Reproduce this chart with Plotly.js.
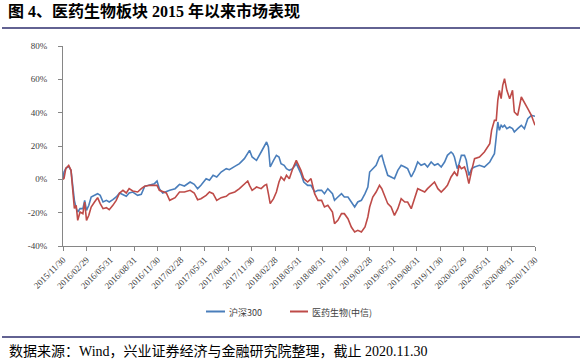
<!DOCTYPE html>
<html>
<head>
<meta charset="utf-8">
<script src="https://cdn.plot.ly/plotly-3.0.1.min.js"></script>
<style>
html,body{margin:0;padding:0;background:#fff;}
#chart{width:587px;height:362px;}
</style>
</head>
<body>
<div id="chart"></div>
<script>
// ---- data ----
const seriesNames = ['沪深300', '医药生物(中信)'];
const dates = [
'2015-11-30','2015-12-04','2015-12-11','2015-12-22','2015-12-31','2016-01-06','2016-01-13','2016-01-20','2016-01-26','2016-02-04',
'2016-02-15','2016-02-22','2016-02-29','2016-03-09','2016-03-18','2016-03-31','2016-04-12','2016-04-22','2016-05-03','2016-05-16',
'2016-05-27','2016-06-10','2016-06-23','2016-07-06','2016-07-19','2016-08-01','2016-08-12','2016-08-26','2016-09-14','2016-09-28',
'2016-10-11','2016-10-31','2016-11-18','2016-11-28','2016-12-07','2016-12-20','2017-01-03','2017-01-16','2017-02-06','2017-02-23',
'2017-03-14','2017-04-05','2017-04-21','2017-05-04','2017-05-17','2017-06-06','2017-06-19','2017-07-03','2017-07-17','2017-08-03',
'2017-08-23','2017-09-04','2017-09-25','2017-10-13','2017-11-01','2017-11-14','2017-11-21','2017-12-01','2017-12-18','2018-01-05',
'2018-01-18','2018-01-26','2018-02-02','2018-02-09','2018-02-22','2018-03-05','2018-03-15','2018-03-23','2018-04-04','2018-04-13',
'2018-04-24','2018-05-07','2018-05-21','2018-05-30','2018-06-08','2018-06-19','2018-07-04','2018-07-17','2018-07-31','2018-08-13',
'2018-08-27','2018-09-07','2018-09-20','2018-10-08','2018-10-16','2018-10-29','2018-11-12','2018-11-23','2018-12-07','2018-12-20',
'2019-01-02','2019-01-14','2019-01-28','2019-02-11','2019-02-22','2019-03-01','2019-03-13','2019-03-26','2019-04-08','2019-04-17',
'2019-04-26','2019-05-10','2019-05-23','2019-06-05','2019-06-18','2019-07-01','2019-07-15','2019-07-26','2019-08-09','2019-08-22',
'2019-09-03','2019-09-16','2019-09-30','2019-10-11','2019-10-25','2019-11-07','2019-11-20','2019-12-03','2019-12-16','2019-12-27',
'2020-01-10','2020-01-17','2020-01-23','2020-02-03','2020-02-10','2020-02-19','2020-03-02','2020-03-09','2020-03-19','2020-03-30',
'2020-04-10','2020-04-29','2020-05-18','2020-06-08','2020-06-15','2020-06-26','2020-07-03','2020-07-09','2020-07-15','2020-07-22',
'2020-07-28','2020-08-04','2020-08-13','2020-08-24','2020-09-04','2020-09-11','2020-09-24','2020-10-08','2020-10-20','2020-11-02',
'2020-11-16','2020-11-30'
];
const hs300 = [
0,4.4,6.6,7.8,5.4,-4.6,-12.6,-17.4,-19.6,-17.6,
-17.6,-12.6,-18.6,-15.6,-10.6,-9.6,-8.6,-9.6,-13.6,-12.6,
-13.6,-12.2,-10.6,-8.2,-9.0,-10.2,-8.2,-7.6,-9.6,-9.0,
-4.2,-3.6,-2.6,-1.0,-5.6,-8.2,-7.2,-6.6,-5.6,-3.0,
-4.0,-1.6,-3.0,-5.6,-3.6,0.4,-0.6,2.4,1.4,4.4,
6.4,5.8,7.8,9.4,12.4,15.4,17.4,13.4,11.4,16.4,
20.4,22.4,19.4,7.4,11.4,14.4,13.4,9.4,8.4,6.4,
5.4,6.4,9.4,6.4,3.4,-1.6,-3.6,-3.6,-7.6,-6.6,
-6.6,-8.6,-5.6,-8.6,-12.6,-10.6,-8.6,-10.6,-10.6,-13.6,
-16.6,-13.6,-12.6,-8.6,-4.6,4.4,6.4,8.4,13.4,14.4,
9.4,2.4,1.4,0.4,5.4,8.4,7.4,6.4,1.4,5.4,
10.4,8.4,9.4,7.4,10.4,8.4,9.4,7.4,10.4,14.4,
16.4,15.4,13.4,6.4,9.4,14.4,14.4,11.4,2.4,6.4,
7.4,8.4,7.4,10.4,12.4,15.4,25.4,34.4,29.4,32.4,
31.4,32.4,30.4,31.4,30.4,28.4,30.4,32.4,30.4,36.4,
38.4,37.8
];
const yiyao = [
0,0.6,6.6,8.4,5.4,-6.6,-17.4,-15.6,-24.6,-19.6,
-20.6,-13.6,-24.6,-21.6,-16.6,-13.6,-11.0,-14.6,-17.6,-17.0,
-18.2,-15.6,-12.6,-8.2,-6.6,-8.2,-5.6,-7.0,-7.6,-5.6,
-4.2,-3.6,-3.6,-3.6,-6.6,-7.6,-8.2,-12.6,-11.0,-7.6,
-7.6,-6.6,-8.2,-12.2,-11.6,-9.6,-7.6,-8.6,-12.6,-11.0,
-10.2,-8.6,-7.6,-5.6,-2.6,-1.0,-3.6,-6.6,-4.6,-5.6,
-3.6,-3.0,-8.6,-14.6,-11.6,-7.6,-1.6,1.4,-0.6,2.4,
0.4,6.4,11.4,8.4,5.4,0.4,-1.6,0.4,-8.6,-12.6,
-12.6,-16.6,-15.6,-19.6,-26.6,-24.6,-20.6,-20.6,-23.6,-28.6,
-31.6,-30.6,-31.6,-28.6,-22.6,-16.6,-10.6,-7.6,-3.6,-5.6,
-9.6,-14.6,-16.6,-21.6,-17.6,-11.6,-13.6,-13.6,-17.6,-10.6,
-5.6,-6.6,-7.6,-5.6,-3.6,-1.6,-5.6,-7.6,-5.6,-3.6,
1.4,3.4,4.4,2.0,8.4,6.4,7.4,4.4,-2.6,5.4,
12.4,13.4,16.4,21.4,29.4,35.4,35.4,47.4,53.4,48.4,
56.4,60.4,53.4,48.4,53.4,40.4,38.4,49.4,46.4,42.4,
38.4,32.4
];
const xTickLabels = ['2015/11/30','2016/02/29','2016/05/31','2016/08/31','2016/11/30','2017/02/28','2017/05/31','2017/08/31','2017/11/30',
'2018/02/28','2018/05/31','2018/08/31','2018/11/30','2019/02/28','2019/05/31','2019/08/31','2019/11/30','2020/02/29','2020/05/31','2020/08/31','2020/11/30'];
const yTickVals = [-40,-20,0,20,40,60,80];
const yTickText = ['-40%','-20%','0%','20%','40%','60%','80%'];
const titleText = '图 4、医药生物板块 2015 年以来市场表现';
const sourceText = '数据来源：Wind，兴业证券经济与金融研究院整理，截止 2020.11.30';

// ---- layout helpers ----
const W = 587, H = 362;
const ML = 63, MR = 52, MT = 46, MB = 116;
const PW = W - ML - MR, PH = H - MT - MB;
const PX = p => (p - ML) / PW;
const PY = p => (H - MB - p) / PH;

const colors = ['#4A7EBB', '#BE4B48'];
const serif = 'Liberation Serif, Times New Roman, Noto Sans CJK SC, serif';
const cjk = 'Noto Sans CJK SC, sans-serif';

const traces = [
  {x: dates, y: hs300, name: seriesNames[0], type: 'scatter', mode: 'lines',
   line: {color: colors[0], width: 1.6}},
  {x: dates, y: yiyao, name: seriesNames[1], type: 'scatter', mode: 'lines',
   line: {color: colors[1], width: 1.6}}
];

const axisCol = '#868686';
const layout = {
  width: W, height: H,
  margin: {l: ML, r: MR, t: MT, b: MB, pad: 0},
  paper_bgcolor: '#fff', plot_bgcolor: '#fff',
  showlegend: false,
  title: {
    text: '<b>' + titleText + '</b>',
    xref: 'container', yref: 'container',
    x: 8 / W, xanchor: 'left', y: 1 - 11 / H, yanchor: 'middle',
    font: {family: serif, size: 16, color: '#000'}
  },
  xaxis: {
    type: 'date',
    range: [xTickLabels[0].replace(/\//g, '-'), xTickLabels[xTickLabels.length - 1].replace(/\//g, '-')],
    tickvals: xTickLabels.map(s => s.replace(/\//g, '-')),
    ticktext: xTickLabels,
    tickangle: -45,
    tickfont: {family: serif, size: 9, color: '#404040'},
    showline: true, linecolor: axisCol, linewidth: 1,
    ticks: 'outside', ticklen: 4, tickcolor: axisCol, tickwidth: 1,
    showgrid: false, zeroline: false, fixedrange: true
  },
  yaxis: {
    range: [-40, 80],
    tickvals: yTickVals, ticktext: yTickText,
    tickfont: {family: serif, size: 9, color: '#404040'},
    showline: true, linecolor: axisCol, linewidth: 1,
    ticks: 'outside', ticklen: 4, tickcolor: axisCol, tickwidth: 1,
    ticklabelstandoff: 9,
    showgrid: false, zeroline: false, fixedrange: true
  },
  shapes: [
    {type: 'line', xref: 'paper', yref: 'paper', x0: PX(2), x1: PX(580), y0: PY(28), y1: PY(28),
     line: {color: '#2E2E6E', width: 1.5}},
    {type: 'line', xref: 'paper', yref: 'paper', x0: PX(2), x1: PX(580), y0: PY(337), y1: PY(337),
     line: {color: '#2E2E6E', width: 1.5}},
    {type: 'line', xref: 'paper', yref: 'paper', x0: PX(206), x1: PX(225), y0: PY(311.5), y1: PY(311.5),
     line: {color: colors[0], width: 2}},
    {type: 'line', xref: 'paper', yref: 'paper', x0: PX(290), x1: PX(308), y0: PY(311.5), y1: PY(311.5),
     line: {color: colors[1], width: 2}}
  ],
  annotations: [
    {xref: 'paper', yref: 'paper', x: PX(227), y: PY(312), xanchor: 'left', yanchor: 'middle',
     text: seriesNames[0], showarrow: false, font: {family: cjk, size: 9, color: '#404040'}},
    {xref: 'paper', yref: 'paper', x: PX(310), y: PY(312), xanchor: 'left', yanchor: 'middle',
     text: seriesNames[1], showarrow: false, font: {family: cjk, size: 9, color: '#404040'}},
    {xref: 'paper', yref: 'paper', x: PX(7), y: PY(351.5), xanchor: 'left', yanchor: 'middle',
     text: sourceText, showarrow: false, font: {family: serif, size: 14, color: '#000'}}
  ]
};

Plotly.newPlot('chart', traces, layout, {displayModeBar: false, staticPlot: true});
</script>
</body>
</html>
